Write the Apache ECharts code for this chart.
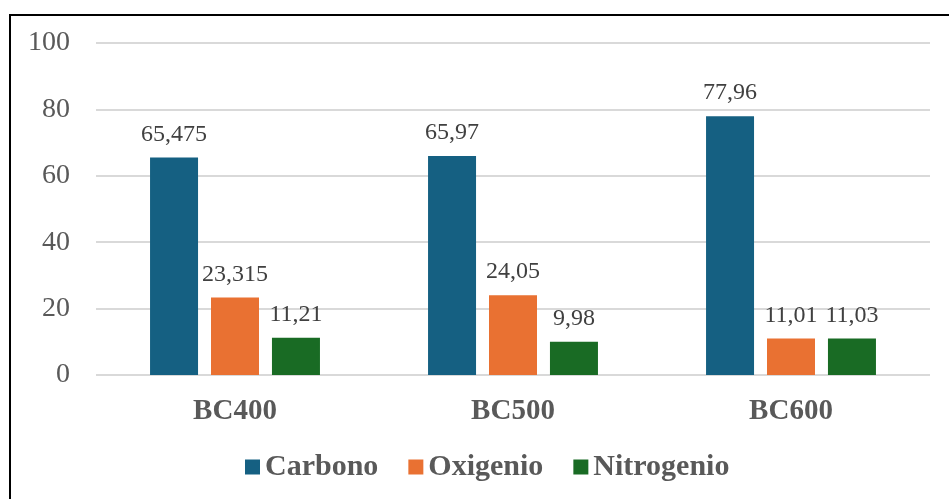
<!DOCTYPE html>
<html>
<head>
<meta charset="utf-8">
<script src="https://cdn.jsdelivr.net/npm/echarts@6/dist/echarts.min.js"></script>
<style>
  html, body { margin: 0; padding: 0; background: #fff; }
  #chart { width: 949px; height: 499px; }
</style>
</head>
<body>
<div id="chart"></div>
<script>
// Samples and elemental composition (%)
const categories = ['BC400', 'BC500', 'BC600'];
const seriesNames = ['Carbono', 'Oxigenio', 'Nitrogenio'];
const carbono = [65.475, 65.97, 77.96];
const oxigenio = [23.315, 24.05, 11.01];
const nitrogenio = [11.21, 9.98, 11.03];
const yTicks = [0, 20, 40, 60, 80, 100];

const colors = ['#156082', '#E97132', '#196B24'];
const serif = '"Liberation Serif", "Times New Roman", serif';

const chart = echarts.init(document.getElementById('chart'), null, { renderer: 'canvas' });

function barSeries(name, data, color) {
  return {
    name: name,
    type: 'bar',
    data: data,
    barWidth: 48,
    barGap: '27%',
    itemStyle: { color: color },
    label: {
      show: true,
      position: 'top',
      distance: 11,
      fontFamily: serif,
      fontSize: 24,
      color: '#404040',
      formatter: p => String(p.value).replace('.', ',')
    }
  };
}

chart.setOption({
  animation: false,
  color: colors,
  graphic: [{
    type: 'rect',
    shape: { x: 10, y: 15, width: 1200, height: 800 },
    style: { fill: 'none', stroke: '#000', lineWidth: 2 },
    silent: true,
    z: 100
  }],
  grid: { left: 96, right: 19, top: 43, bottom: 124, containLabel: false },
  legend: {
    data: seriesNames,
    top: 452,
    left: 245,
    padding: 0,
    itemWidth: 15,
    itemHeight: 15,
    itemGap: 30,
    icon: 'rect',
    textStyle: { fontFamily: serif, fontSize: 30, fontWeight: 'bold', color: '#595959', padding: [0, 0, 0, 0] }
  },
  xAxis: {
    type: 'category',
    data: categories,
    axisLine: { show: false },
    axisTick: { show: false },
    axisLabel: { fontFamily: serif, fontSize: 29, fontWeight: 'bold', color: '#595959', margin: 22 }
  },
  yAxis: {
    type: 'value',
    min: yTicks[0],
    max: yTicks[yTicks.length - 1],
    interval: yTicks[1] - yTicks[0],
    axisLine: { show: false },
    axisTick: { show: false },
    splitLine: { lineStyle: { color: '#d9d9d9', width: 2 } },
    axisLabel: { fontFamily: serif, fontSize: 28, color: '#595959', margin: 26 }
  },
  series: [
    barSeries(seriesNames[0], carbono, colors[0]),
    barSeries(seriesNames[1], oxigenio, colors[1]),
    barSeries(seriesNames[2], nitrogenio, colors[2])
  ]
});
</script>
</body>
</html>
